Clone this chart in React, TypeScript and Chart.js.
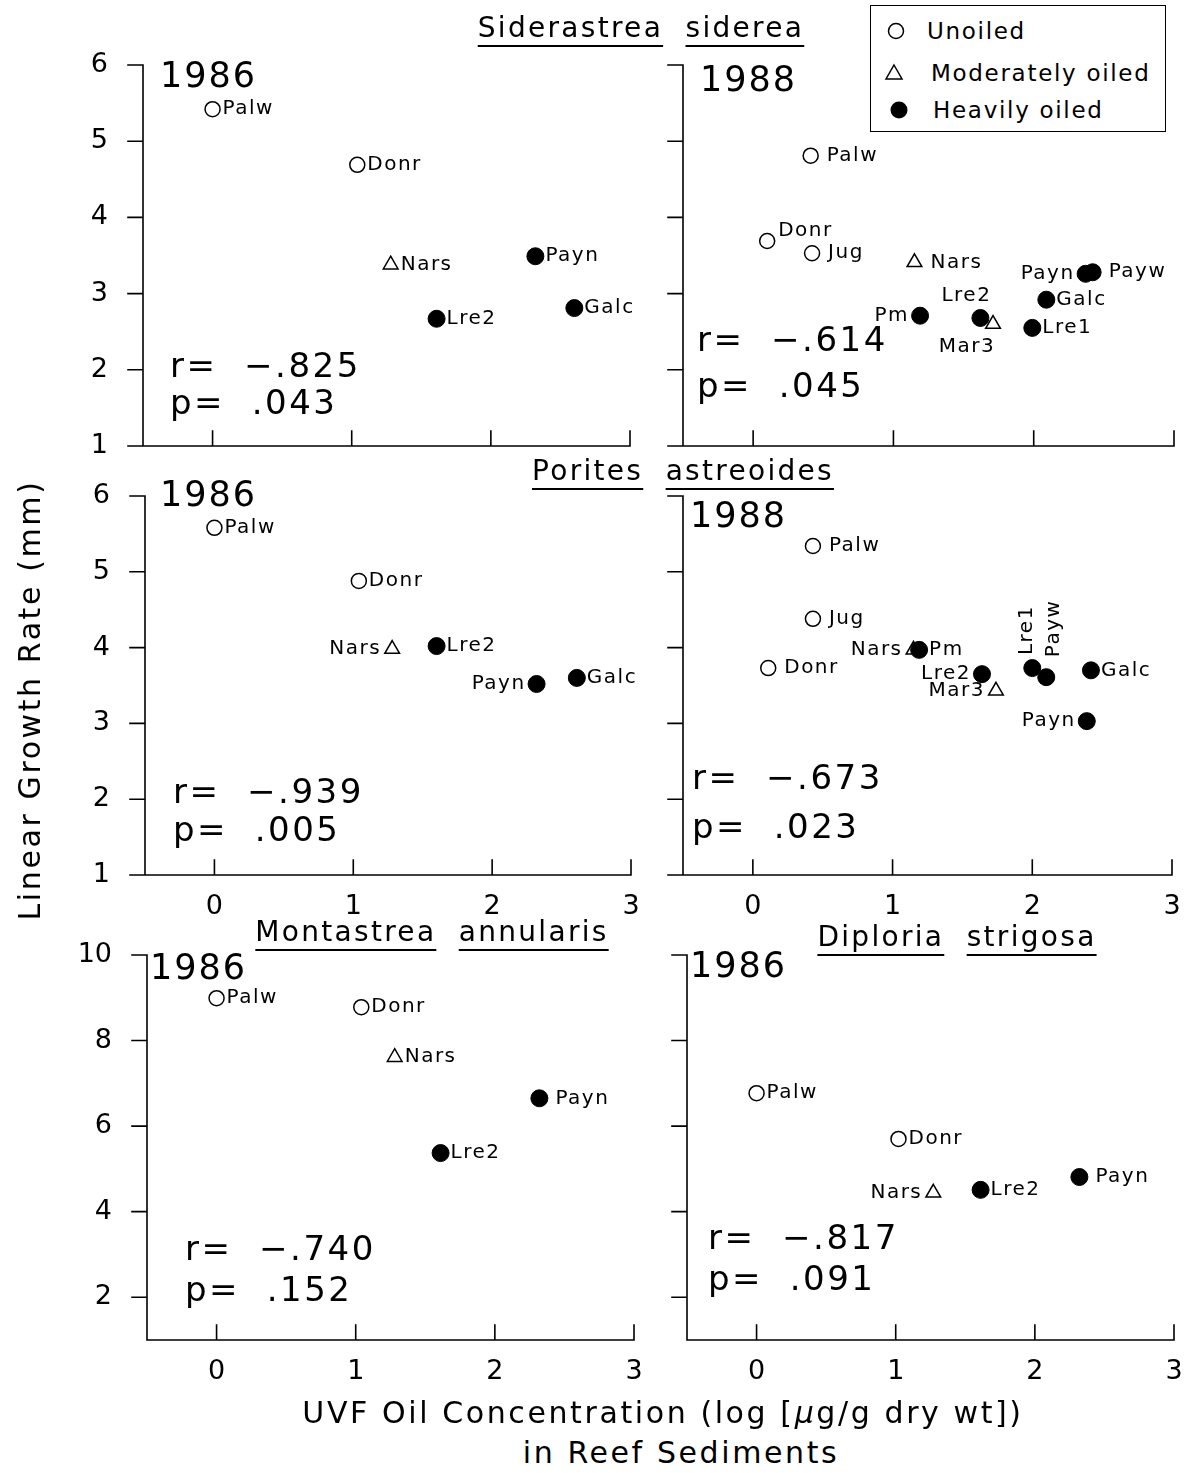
import React, { useEffect, useRef } from 'react';
import { Chart, registerables } from 'chart.js';

Chart.register(...registerables);

// ---------------- data ----------------
const X_TICKS = [0, 1, 2, 3];
const Y_TICKS_SMALL = [1, 2, 3, 4, 5, 6];
const Y_TICKS_LARGE = [2, 4, 6, 8, 10];

// Siderastrea siderea, 1986
const SS86_SITES = ['Palw', 'Donr', 'Nars', 'Payn', 'Lre2', 'Galc'];
const SS86_OIL = ['U', 'U', 'M', 'H', 'H', 'H'];
const SS86_X = [0.0, 1.04, 1.28, 2.32, 1.61, 2.6];
const SS86_Y = [5.42, 4.69, 3.38, 3.49, 2.67, 2.81];

// Siderastrea siderea, 1988
const SS88_SITES = ['Palw', 'Donr', 'Jug', 'Nars', 'Payn', 'Payw', 'Galc', 'Pm', 'Lre2', 'Mar3', 'Lre1'];
const SS88_OIL = ['U', 'U', 'U', 'M', 'H', 'H', 'H', 'H', 'H', 'M', 'H'];
const SS88_X = [0.41, 0.1, 0.42, 1.15, 2.37, 2.42, 2.09, 1.19, 1.62, 1.71, 1.99];
const SS88_Y = [4.81, 3.69, 3.53, 3.41, 3.26, 3.28, 2.92, 2.71, 2.68, 2.6, 2.55];

// Porites astreoides, 1986
const PA86_SITES = ['Palw', 'Donr', 'Nars', 'Lre2', 'Payn', 'Galc'];
const PA86_OIL = ['U', 'U', 'M', 'H', 'H', 'H'];
const PA86_X = [0.0, 1.04, 1.28, 1.6, 2.32, 2.61];
const PA86_Y = [5.58, 4.88, 3.98, 4.02, 3.52, 3.6];

// Porites astreoides, 1988
const PA88_SITES = ['Palw', 'Jug', 'Donr', 'Nars', 'Pm', 'Lre2', 'Mar3', 'Lre1', 'Payw', 'Galc', 'Payn'];
const PA88_OIL = ['U', 'U', 'U', 'M', 'H', 'H', 'M', 'H', 'H', 'H', 'H'];
const PA88_X = [0.43, 0.43, 0.11, 1.15, 1.19, 1.64, 1.74, 2.0, 2.1, 2.42, 2.39];
const PA88_Y = [5.34, 4.38, 3.73, 3.97, 3.97, 3.65, 3.43, 3.73, 3.61, 3.7, 3.03];

// Montastrea annularis, 1986
const MA86_SITES = ['Palw', 'Donr', 'Nars', 'Payn', 'Lre2'];
const MA86_OIL = ['U', 'U', 'M', 'H', 'H'];
const MA86_X = [0.0, 1.04, 1.28, 2.32, 1.61];
const MA86_Y = [8.99, 8.78, 7.61, 6.65, 5.37];

// Diploria strigosa, 1986
const DS86_SITES = ['Palw', 'Donr', 'Nars', 'Lre2', 'Payn'];
const DS86_OIL = ['U', 'U', 'M', 'H', 'H'];
const DS86_X = [0.0, 1.02, 1.27, 1.61, 2.32];
const DS86_Y = [6.77, 5.7, 4.44, 4.51, 4.81];

// label placement (layout, not data)
const SS86_LABEL_POS = ['r', 'r', 'r', 'r', 'r', 'r'];
const SS88_LABEL_POS = ['r2', 'ar', 'r2', 'r2', 'l', 'r2', 'r', 'l', 'al', 'bl', 'r'];
const PA86_LABEL_POS = ['r', 'r', 'l', 'r', 'l', 'r'];
const PA88_LABEL_POS = ['r2', 'r2', 'r2', 'l', 'r', 'l', 'l', 'vl', 'vr', 'r', 'l'];
const MA86_LABEL_POS = ['r', 'r', 'r', 'r2', 'r'];
const DS86_LABEL_POS = ['r', 'r', 'l', 'r', 'r2'];

// ---------------- styling ----------------
const FONT = "'DejaVu Sans', 'Liberation Sans', sans-serif";
const PAD_L = 95;
const PAD_T = 60;
const PAD_R = 34;
const PAD_B = 60;
const TICK_LEN = 15;

type Panel = {
  sites: string[];
  oil: string[];
  xs: number[];
  ys: number[];
  pos: string[];
  yMin: number;
  yMax: number;
  yTicks: number[];
  showX: boolean;
  showY: boolean;
  rect: [number, number, number, number];
  year: string;
  yearAt: [number, number];
  r: string;
  p: string;
  statAt: [number, number, number];
};

const PANELS: Panel[] = [
  {
    sites: SS86_SITES, oil: SS86_OIL, xs: SS86_X, ys: SS86_Y, pos: SS86_LABEL_POS,
    yMin: 1, yMax: 6, yTicks: Y_TICKS_SMALL, showX: false, showY: true,
    rect: [143, 65, 630, 446], year: '1986', yearAt: [17, 22],
    r: 'r=  \u2212.825', p: 'p=  .043', statAt: [27, 312, 349],
  },
  {
    sites: SS88_SITES, oil: SS88_OIL, xs: SS88_X, ys: SS88_Y, pos: SS88_LABEL_POS,
    yMin: 1, yMax: 6, yTicks: Y_TICKS_SMALL, showX: false, showY: false,
    rect: [683, 65, 1174, 446], year: '1988', yearAt: [17, 26],
    r: 'r=  \u2212.614', p: 'p=  .045', statAt: [14, 286, 332],
  },
  {
    sites: PA86_SITES, oil: PA86_OIL, xs: PA86_X, ys: PA86_Y, pos: PA86_LABEL_POS,
    yMin: 1, yMax: 6, yTicks: Y_TICKS_SMALL, showX: true, showY: true,
    rect: [145, 496, 631, 875], year: '1986', yearAt: [15, 10],
    r: 'r=  \u2212.939', p: 'p=  .005', statAt: [28, 307, 345],
  },
  {
    sites: PA88_SITES, oil: PA88_OIL, xs: PA88_X, ys: PA88_Y, pos: PA88_LABEL_POS,
    yMin: 1, yMax: 6, yTicks: Y_TICKS_SMALL, showX: true, showY: false,
    rect: [683, 496, 1172, 875], year: '1988', yearAt: [7, 31],
    r: 'r=  \u2212.673', p: 'p=  .023', statAt: [9, 293, 342],
  },
  {
    sites: MA86_SITES, oil: MA86_OIL, xs: MA86_X, ys: MA86_Y, pos: MA86_LABEL_POS,
    yMin: 1, yMax: 10, yTicks: Y_TICKS_LARGE, showX: true, showY: true,
    rect: [147, 955, 634, 1340], year: '1986', yearAt: [3, 24],
    r: 'r=  \u2212.740', p: 'p=  .152', statAt: [38, 305, 346],
  },
  {
    sites: DS86_SITES, oil: DS86_OIL, xs: DS86_X, ys: DS86_Y, pos: DS86_LABEL_POS,
    yMin: 1, yMax: 10, yTicks: Y_TICKS_LARGE, showX: true, showY: false,
    rect: [687, 955, 1174, 1340], year: '1986', yearAt: [3, 22],
    r: 'r=  \u2212.817', p: 'p=  .091', statAt: [21, 294, 335],
  },
];

function drawPointLabel(ctx: any, px: number, py: number, text: string, pos: string) {
  ctx.save();
  ctx.font = `20px ${FONT}`;
  ctx.letterSpacing = '1.5px';
  ctx.fillStyle = '#000';
  ctx.textBaseline = 'middle';
  if (pos === 'r') {
    ctx.textAlign = 'left';
    ctx.fillText(text, px + 10, py);
  } else if (pos === 'r2') {
    ctx.textAlign = 'left';
    ctx.fillText(text, px + 16, py);
  } else if (pos === 'l') {
    ctx.textAlign = 'right';
    ctx.fillText(text, px - 11, py);
  } else if (pos === 'ar') {
    ctx.textAlign = 'left';
    ctx.fillText(text, px + 11, py - 10);
  } else if (pos === 'al') {
    ctx.textAlign = 'center';
    ctx.fillText(text, px - 14, py - 22);
  } else if (pos === 'bl') {
    ctx.textAlign = 'center';
    ctx.fillText(text, px - 26, py + 23);
  } else if (pos === 'vl' || pos === 'vr') {
    ctx.translate(pos === 'vl' ? px - 5 : px + 8, pos === 'vl' ? py - 13 : py - 20);
    ctx.rotate(-Math.PI / 2);
    ctx.textAlign = 'left';
    ctx.fillText(text, 0, 0);
  }
  ctx.restore();
}

function makePlugin(p: Panel) {
  return {
    id: 'panelDecor',
    afterDraw(chart: any) {
      const { ctx, chartArea } = chart;
      const xs = chart.scales.x;
      const ys = chart.scales.y;
      const { left, right, top, bottom } = chartArea;
      ctx.save();
      ctx.strokeStyle = '#000';
      ctx.lineWidth = 1.6;
      ctx.lineCap = 'square';
      ctx.beginPath();
      ctx.moveTo(left, top);
      ctx.lineTo(left, bottom);
      ctx.lineTo(right, bottom);
      for (const v of p.yTicks) {
        const py = ys.getPixelForValue(v);
        ctx.moveTo(left - TICK_LEN, py);
        ctx.lineTo(left, py);
      }
      for (const v of X_TICKS) {
        const px = xs.getPixelForValue(v);
        ctx.moveTo(px, bottom);
        ctx.lineTo(px, bottom - TICK_LEN);
      }
      ctx.stroke();

      // point labels
      p.sites.forEach((s, i) => {
        drawPointLabel(ctx, xs.getPixelForValue(p.xs[i]), ys.getPixelForValue(p.ys[i]), s, p.pos[i]);
      });

      // year and statistics
      ctx.fillStyle = '#000';
      ctx.textAlign = 'left';
      ctx.textBaseline = 'alphabetic';
      ctx.font = `35px ${FONT}`;
      ctx.letterSpacing = '2px';
      ctx.fillText(p.year, left + p.yearAt[0], top + p.yearAt[1]);
      ctx.font = `34px ${FONT}`;
      ctx.letterSpacing = '2.5px';
      ctx.fillText(p.r, left + p.statAt[0], top + p.statAt[1]);
      ctx.fillText(p.p, left + p.statAt[0], top + p.statAt[2]);
      ctx.restore();
    },
  };
}

function PanelChart({ p }: { p: Panel }) {
  const ref = useRef<HTMLCanvasElement | null>(null);
  const [L, T, R, B] = p.rect;
  const width = PAD_L + (R - L) + PAD_R;
  const height = PAD_T + (B - T) + PAD_B;

  useEffect(() => {
    if (!ref.current) return;
    const pts = p.sites.map((s, i) => ({ x: p.xs[i], y: p.ys[i] }));
    const pick = (o: string) => pts.filter((_, i) => p.oil[i] === o);
    const tickFont = { family: FONT, size: 27 };
    const chart = new Chart(ref.current, {
      type: 'scatter',
      data: {
        datasets: [
          {
            label: 'Unoiled',
            data: pick('U'),
            pointStyle: 'circle',
            pointRadius: 7.5,
            borderColor: '#000',
            backgroundColor: 'rgba(255,255,255,0)',
            borderWidth: 1.5,
          },
          {
            label: 'Moderately oiled',
            data: pick('M'),
            pointStyle: 'triangle',
            pointRadius: 8.5,
            borderColor: '#000',
            backgroundColor: 'rgba(255,255,255,0)',
            borderWidth: 1.5,
          },
          {
            label: 'Heavily oiled',
            data: pick('H'),
            pointStyle: 'circle',
            pointRadius: 8.5,
            borderColor: '#000',
            backgroundColor: '#000',
            borderWidth: 1,
          },
        ],
      },
      options: {
        responsive: false,
        animation: false,
        devicePixelRatio: 1,
        layout: { padding: { top: PAD_T, right: PAD_R, left: 0, bottom: 0 } },
        plugins: { legend: { display: false }, tooltip: { enabled: false } },
        scales: {
          x: {
            type: 'linear',
            min: -0.5,
            max: 3,
            grid: { display: false, drawTicks: false },
            border: { display: false },
            ticks: { display: p.showX, font: tickFont, color: '#000', padding: 16 },
            afterBuildTicks: (s: any) => {
              s.ticks = X_TICKS.map((v) => ({ value: v }));
            },
            afterFit: (s: any) => {
              s.height = PAD_B;
            },
          },
          y: {
            type: 'linear',
            min: p.yMin,
            max: p.yMax,
            grid: { display: false, drawTicks: false },
            border: { display: false },
            ticks: { display: p.showY, font: tickFont, color: '#000', padding: 35 },
            afterBuildTicks: (s: any) => {
              s.ticks = p.yTicks.map((v) => ({ value: v }));
            },
            afterFit: (s: any) => {
              s.width = PAD_L;
            },
          },
        },
      } as any,
      plugins: [makePlugin(p)],
    });
    return () => chart.destroy();
  }, [p]);

  return (
    <canvas
      ref={ref}
      width={width}
      height={height}
      style={{ position: 'absolute', left: L - PAD_L, top: T - PAD_T, width, height }}
    />
  );
}

function Title({ words, cx, cy }: { words: string[]; cx: number; cy: number }) {
  return (
    <div
      style={{
        position: 'absolute',
        left: cx,
        top: cy,
        transform: 'translate(-50%, -50%)',
        fontSize: 28,
        letterSpacing: 2.3,
        whiteSpace: 'nowrap',
        lineHeight: 1,
      }}
    >
      {words.map((w, i) => (
        <React.Fragment key={i}>
          {i > 0 ? '\u00a0\u00a0' : ''}
          <span
            style={{
              textDecoration: 'underline',
              textUnderlineOffset: 8,
              textDecorationThickness: 1.5,
            }}
          >
            {w}
          </span>
        </React.Fragment>
      ))}
    </div>
  );
}

function Legend() {
  const item = (top: number, sym: React.ReactNode, text: string, textLeft: number) => (
    <>
      <div style={{ position: 'absolute', left: 12, top: top - 10 }}>{sym}</div>
      <div
        style={{
          position: 'absolute',
          left: textLeft,
          top,
          transform: 'translateY(-50%)',
          fontSize: 23,
          letterSpacing: 1.7,
          whiteSpace: 'nowrap',
          lineHeight: 1,
        }}
      >
        {text}
      </div>
    </>
  );
  return (
    <div
      style={{
        position: 'absolute',
        left: 870,
        top: 5,
        width: 294,
        height: 125,
        border: '1.5px solid #000',
        background: '#fff',
      }}
    >
      {item(
        25,
        <svg width="30" height="20">
          <circle cx="13" cy="10" r="7.5" fill="none" stroke="#000" strokeWidth="1.5" />
        </svg>,
        'Unoiled',
        56,
      )}
      {item(
        67,
        <svg width="30" height="20">
          <polygon points="11,2 19,16 3,16" fill="none" stroke="#000" strokeWidth="1.5" />
        </svg>,
        'Moderately oiled',
        60,
      )}
      {item(
        104,
        <svg width="30" height="20">
          <circle cx="16" cy="10" r="8.5" fill="#000" />
        </svg>,
        'Heavily oiled',
        62,
      )}
    </div>
  );
}

const MU = '\u03bc';

export default function App() {
  return (
    <div
      style={{
        position: 'absolute',
        left: 0,
        top: 0,
        width: 1188,
        height: 1473,
        background: '#fff',
        fontFamily: FONT,
        color: '#000',
        overflow: 'hidden',
      }}
    >
      {PANELS.map((p, i) => (
        <PanelChart key={i} p={p} />
      ))}
      <Title words={['Siderastrea', 'siderea']} cx={641} cy={28} />
      <Title words={['Porites', 'astreoides']} cx={683} cy={471} />
      <Title words={['Montastrea', 'annularis']} cx={432} cy={932} />
      <Title words={['Diploria', 'strigosa']} cx={957} cy={937} />
      <Legend />
      <div
        style={{
          position: 'absolute',
          left: 30,
          top: 700,
          transform: 'translate(-50%, -50%) rotate(-90deg)',
          fontSize: 30,
          letterSpacing: 2.6,
          whiteSpace: 'nowrap',
          lineHeight: 1,
        }}
      >
        Linear Growth Rate (mm)
      </div>
      <div
        style={{
          position: 'absolute',
          left: 663,
          top: 1413,
          transform: 'translate(-50%, -50%)',
          fontSize: 30,
          letterSpacing: 2.6,
          whiteSpace: 'nowrap',
          lineHeight: 1,
        }}
      >
        UVF Oil Concentration (log [<i>{MU}</i>g/g dry wt])
      </div>
      <div
        style={{
          position: 'absolute',
          left: 681,
          top: 1453,
          transform: 'translate(-50%, -50%)',
          fontSize: 30,
          letterSpacing: 2.6,
          whiteSpace: 'nowrap',
          lineHeight: 1,
        }}
      >
        in Reef Sediments
      </div>
    </div>
  );
}
